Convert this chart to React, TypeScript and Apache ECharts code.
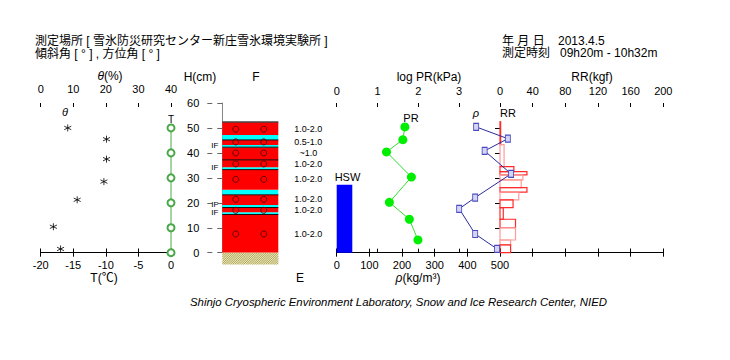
import React, { useEffect, useRef } from 'react';
import * as echarts from 'echarts';

const FONT = '"Liberation Sans", Arial, "Noto Sans CJK JP", sans-serif';

// header / footer texts
const headerPlace = '測定場所 [ 雪氷防災研究センター新庄雪氷環境実験所 ]';
const headerAngle = '傾斜角 [ ° ] , 方位角 [ ° ]';
const headerDateLabel = '年 月 日';
const headerDate = '2013.4.5';
const headerTimeLabel = '測定時刻';
const headerTime = '09h20m - 10h32m';
const footerText = 'Shinjo Cryospheric Environment Laboratory, Snow and Ice Research Center, NIED';

// water content theta (%)
const thetaHeights = [50, 45.5, 37.5, 28.5, 21.2, 10.4, 1.5];
const thetaValues = [8.3, 20.2, 20.2, 19.4, 11.2, 3.9, 6.1];

// snow temperature (°C)
const tempHeights = [50, 40, 30, 20, 10, 0];
const tempValues = [0, 0, 0, 0, 0, 0];

// layers: bottom, top, kind (0 = red, 1 = cyan, 2 = IF cyan)
const layerBottoms = [0, 15.3, 16.2, 18.1, 19.1, 23.2, 25.2, 33.3, 34.2, 42.3, 43.2, 45.2, 47.2];
const layerTops = [15.3, 16.2, 18.1, 19.1, 23.2, 25.2, 33.3, 34.2, 42.3, 43.2, 45.2, 47.2, 52.4];
const layerKinds = [0, 2, 0, 2, 0, 1, 0, 2, 0, 2, 0, 1, 0];
const boundaryHeights = [15.3, 18.1, 23.2, 33.3, 37.2, 42.3, 45.2, 52.4];
const groundDepth = 4.7;
const ifLabelHeights = [43, 34.1, 19.4, 16.1];

// grain shape rows and hardness
const grainHeights = [49.5, 44.4, 40, 35.6, 29.4, 21.4, 17, 7.5];
const hardnessLabels = ['1.0-2.0', '0.5-1.0', '~1.0', '1.0-2.0', '1.0-2.0', '1.0-2.0', '1.0-2.0', '1.0-2.0'];

// push resistance log PR (kPa)
const prHeights = [50.4, 45.3, 40.4, 30.3, 20.2, 13.4, 5.1];
const prValues = [1.67, 1.62, 1.22, 1.83, 1.29, 1.78, 1.99];

// density (kg/m3)
const rhoHeights = [50.4, 45.7, 40.8, 31.6, 22.1, 17.6, 7.5, 1.5];
const rhoValues = [427, 524, 453, 534, 424, 375, 424, 491];

// HSW
const hswValue = 27.2;

// ram resistance RR (kgf)
const rrBottoms = [43.3, 34.5, 32.5, 31.2, 29.2, 26.1, 24.3, 21.2, 18.1, 13.4, 10, 5.1, 3.1, 0];
const rrTops = [52.5, 43.3, 34.5, 32.5, 31.2, 29.2, 26.1, 24.3, 21.2, 18.1, 13.4, 10, 5.1, 3.1];
const rrValues = [0.8, 5, 17, 33, 28, 26, 33, 23, 16, 4, 19, 19, 13, 13];
const rrShades = [0, 1, 0, 0, 1, 1, 0, 1, 0, 0, 0, 1, 1, 0];
const rrTickHeights = [0, 10, 20, 30, 40, 50];

const TOP = 103;
const HGT = 149.7;

const axisBase = (o: any) => ({
  type: 'value',
  axisLine: { show: true, lineStyle: { color: '#000', width: 1 } },
  axisTick: { show: true, length: 4, lineStyle: { color: '#000' } },
  axisLabel: { color: '#000', fontSize: 11, fontFamily: FONT, margin: 7 },
  splitLine: { show: false },
  ...o,
});
const twin = (o: any) => ({
  ...axisBase(o),
  axisLine: { show: false },
  axisLabel: { show: false },
  axisTick: { show: true, inside: true, length: 4, lineStyle: { color: '#000' } },
});
const hiddenY = (gridIndex: number) => ({ type: 'value', gridIndex, min: 0, max: 60, show: false });

const txt = (text: string, x: number, y: number, o: any = {}) => ({
  type: 'text',
  x,
  y,
  z: 100,
  style: {
    text,
    fill: '#000',
    font: `12px ${FONT}`,
    lineHeight: 12,
    align: 'left',
    verticalAlign: 'middle',
    ...o,
  },
});

function buildOption(): any {
  return {
    animation: false,
    backgroundColor: '#fff',
    grid: [
      { left: 40.7, top: TOP, width: 130.3, height: HGT },
      { left: 222.3, top: TOP, width: 56, height: HGT },
      { left: 336.7, top: TOP, width: 163.3, height: HGT },
      { left: 500, top: TOP, width: 163.3, height: HGT },
      { left: 336.7, top: TOP, width: 326.6, height: HGT },
    ],
    xAxis: [
      axisBase({ gridIndex: 0, position: 'top', min: 0, max: 40, interval: 10, axisLabel: { color: '#000', fontSize: 11, fontFamily: FONT, margin: 9 } }),
      twin({ gridIndex: 0, position: 'top', min: 0, max: 40, interval: 10 }),
      axisBase({ gridIndex: 0, position: 'bottom', min: -20, max: 0, interval: 5 }),
      twin({ gridIndex: 0, position: 'bottom', min: -20, max: 0, interval: 5 }),
      { type: 'value', gridIndex: 1, min: 0, max: 1, show: false },
      axisBase({
        gridIndex: 2, position: 'top', min: 0, max: 4, interval: 1,
        axisLabel: { color: '#000', fontSize: 11, fontFamily: FONT, margin: 7, formatter: (v: number) => (v < 4 ? String(v) : '') },
      }),
      twin({ gridIndex: 2, position: 'top', min: 0, max: 4, interval: 1 }),
      axisBase({ gridIndex: 3, position: 'top', min: 0, max: 200, interval: 40 }),
      twin({ gridIndex: 3, position: 'top', min: 0, max: 200, interval: 40 }),
      axisBase({
        gridIndex: 4, position: 'bottom', min: 0, max: 1000, interval: 100,
        axisLabel: { color: '#000', fontSize: 11, fontFamily: FONT, margin: 7, formatter: (v: number) => (v <= 500 ? String(v) : '') },
      }),
      twin({ gridIndex: 4, position: 'bottom', min: 0, max: 1000, interval: 100 }),
    ],
    yAxis: [
      hiddenY(0),
      {
        type: 'value', gridIndex: 1, min: 0, max: 60, interval: 10, position: 'left', offset: 15,
        axisLine: { show: true, lineStyle: { color: '#888', width: 1 } },
        axisTick: { show: true, length: 5, lineStyle: { color: '#666' } },
        axisLabel: { color: '#000', fontSize: 11, fontFamily: FONT, margin: 8 },
        splitLine: { show: false },
      },
      {
        type: 'value', gridIndex: 1, min: 0, max: 60, interval: 10, position: 'left', offset: 15,
        axisLine: { show: false }, axisLabel: { show: false }, splitLine: { show: false },
        axisTick: { show: true, inside: true, length: 5, lineStyle: { color: '#666' } },
      },
      hiddenY(2),
      {
        type: 'value', gridIndex: 3, min: 0, max: 60, interval: 10, position: 'left',
        axisLine: { show: false }, axisLabel: { show: false }, splitLine: { show: false },
        axisTick: { show: true, length: 5, customValues: rrTickHeights, lineStyle: { color: '#000' } },
      },
      hiddenY(4),
    ],
    series: [
      // theta
      {
        type: 'scatter', xAxisIndex: 0, yAxisIndex: 0, z: 5,
        data: thetaValues.map((v, i) => [v, thetaHeights[i]]),
        symbol: 'path://M5,0L5,10M0.67,2.5L9.33,7.5M0.67,7.5L9.33,2.5',
        symbolSize: 7,
        itemStyle: { color: 'none', borderColor: '#000', borderWidth: 1 },
      },
      // temperature
      {
        type: 'line', xAxisIndex: 2, yAxisIndex: 0, clip: false, z: 5,
        data: tempValues.map((v, i) => [v, tempHeights[i]]),
        symbol: 'emptyCircle', symbolSize: 7,
        itemStyle: { color: '#4aa84a', borderWidth: 1 },
        lineStyle: { color: '#4aa84a', width: 1 },
      },
      // layers
      {
        type: 'custom', xAxisIndex: 4, yAxisIndex: 1, z: 2,
        data: layerBottoms.map((b, i) => [b, layerTops[i], layerKinds[i]]),
        renderItem: (params: any, api: any) => {
          const tl = api.coord([0, api.value(1)]);
          const br = api.coord([1, api.value(0)]);
          return {
            type: 'rect',
            shape: { x: tl[0], y: tl[1], width: br[0] - tl[0], height: br[1] - tl[1] },
            style: { fill: api.value(2) === 0 ? '#ff0000' : '#00ffff' },
          };
        },
      },
      // ground hatch
      {
        type: 'custom', xAxisIndex: 4, yAxisIndex: 1, z: 2,
        data: [[0, groundDepth]],
        renderItem: (params: any, api: any) => {
          const tl = api.coord([0, 0]);
          const br = api.coord([1, -api.value(1)]);
          const x0 = tl[0], y0 = tl[1], w = br[0] - x0, h = br[1] - y0;
          const children: any[] = [{ type: 'rect', shape: { x: x0, y: y0, width: w, height: h }, style: { fill: '#ebe5b8' } }];
          const s = 2.2;
          for (let k = -h; k < w; k += s) {
            const tmin = Math.max(0, -k), tmax = Math.min(h, w - k);
            if (tmin < tmax) {
              children.push({
                type: 'line',
                shape: { x1: x0 + k + tmin, y1: y0 + h - tmin, x2: x0 + k + tmax, y2: y0 + h - tmax },
                style: { stroke: '#9c9648', lineWidth: 0.8 },
              });
            }
          }
          return { type: 'group', children };
        },
      },
      // boundaries
      {
        type: 'custom', xAxisIndex: 4, yAxisIndex: 1, z: 3,
        data: boundaryHeights.map((h) => [0, h]),
        renderItem: (params: any, api: any) => {
          const a = api.coord([0, api.value(1)]);
          const b = api.coord([1, api.value(1)]);
          const isTop = params.dataIndex === boundaryHeights.length - 1;
          return {
            type: 'line',
            shape: { x1: a[0], y1: a[1], x2: b[0], y2: b[1] },
            style: { stroke: isTop ? '#444' : '#111', lineWidth: isTop ? 1.5 : 1 },
          };
        },
      },
      // grain shapes
      {
        type: 'custom', xAxisIndex: 4, yAxisIndex: 1, z: 4,
        data: grainHeights.map((h) => [0, h]),
        renderItem: (params: any, api: any) => {
          const a = api.coord([0.24, api.value(1)]);
          const b = api.coord([0.74, api.value(1)]);
          const st = { fill: 'none', stroke: '#600000', lineWidth: 1 };
          return {
            type: 'group',
            children: [
              { type: 'circle', shape: { cx: a[0], cy: a[1], r: 3 }, style: st },
              { type: 'circle', shape: { cx: b[0], cy: b[1], r: 3 }, style: st },
            ],
          };
        },
      },
      // hardness labels
      {
        type: 'custom', xAxisIndex: 4, yAxisIndex: 1, z: 4,
        data: grainHeights.map((h) => [1, h]),
        renderItem: (params: any, api: any) => {
          const p = api.coord([1, api.value(1)]);
          return {
            type: 'text',
            style: {
              text: hardnessLabels[params.dataIndex], x: p[0] + 30, y: p[1],
              fill: '#000', fontSize: 9, lineHeight: 9, fontFamily: FONT, align: 'center', verticalAlign: 'middle',
            },
          };
        },
      },
      // IF labels
      {
        type: 'custom', xAxisIndex: 4, yAxisIndex: 1, z: 4,
        data: ifLabelHeights.map((h) => [0, h]),
        renderItem: (params: any, api: any) => {
          const p = api.coord([0, api.value(1)]);
          return {
            type: 'text',
            style: {
              text: 'IF', x: p[0] - 4, y: p[1],
              fill: '#000', fontSize: 8, lineHeight: 7, fontFamily: FONT, align: 'right', verticalAlign: 'middle',
            },
          };
        },
      },
      // PR
      {
        type: 'line', xAxisIndex: 5, yAxisIndex: 3, z: 5, clip: false,
        data: prValues.map((v, i) => [v, prHeights[i]]),
        symbol: 'circle', symbolSize: 9,
        itemStyle: { color: '#00ee00' },
        lineStyle: { color: '#33dd33', width: 1 },
      },
      // RR
      {
        type: 'custom', xAxisIndex: 7, yAxisIndex: 4, z: 4,
        data: rrBottoms.map((b, i) => [b, rrTops[i], rrValues[i], rrShades[i]]),
        renderItem: (params: any, api: any) => {
          const o = api.coord([0, api.value(1)]);
          const e = api.coord([api.value(2), api.value(0)]);
          return {
            type: 'rect',
            shape: { x: o[0], y: o[1], width: e[0] - o[0], height: e[1] - o[1] },
            style: { fill: 'none', stroke: api.value(3) ? '#ff9a9a' : '#ff2a2a', lineWidth: 1.2 },
          };
        },
      },
      // HSW
      {
        type: 'custom', xAxisIndex: 9, yAxisIndex: 5, z: 4,
        data: [[0, hswValue]],
        renderItem: (params: any, api: any) => {
          const t = api.coord([0, api.value(1)]);
          const b = api.coord([0, 0]);
          return {
            type: 'rect',
            shape: { x: t[0], y: t[1], width: 15.6, height: b[1] - t[1] },
            style: { fill: '#0000ff' },
          };
        },
      },
      // density
      {
        type: 'line', xAxisIndex: 9, yAxisIndex: 5, z: 10, clip: false,
        data: rhoValues.map((v, i) => [v, rhoHeights[i]]),
        symbol: 'rect', symbolSize: [5, 7],
        itemStyle: { color: '#d4d4f6', borderColor: '#4a4ac0', borderWidth: 1 },
        lineStyle: { color: '#2b2b9b', width: 1 },
      },
    ],
    graphic: [
      txt(headerPlace, 35, 41),
      txt(headerAngle, 35, 54),
      txt(headerDateLabel, 502, 40.5),
      txt(headerDate, 558, 40.5),
      txt(headerTimeLabel, 502, 53),
      txt(headerTime, 560, 53),
      txt('{i|θ}(%)', 110, 76, { align: 'center', lineHeight: 10, rich: { i: { fontStyle: 'italic', fontSize: 12, fontFamily: FONT, lineHeight: 10 } } }),
      txt('T(℃)', 104, 278, { align: 'center' }),
      txt('H(cm)', 200, 77, { align: 'center' }),
      txt('F', 256, 77, { align: 'center' }),
      txt('E', 300, 278, { align: 'center' }),
      txt('log PR(kPa)', 429, 77, { align: 'center' }),
      txt('RR(kgf)', 592, 77, { align: 'center' }),
      txt('{i|ρ}(kg/m³)', 418, 278, { align: 'center', rich: { i: { fontStyle: 'italic', fontSize: 12, fontFamily: FONT } } }),
      txt('θ', 65, 112, { align: 'center', font: `italic 11px ${FONT}`, lineHeight: 11 }),
      txt('T', 171, 119, { align: 'center', font: `10px ${FONT}`, lineHeight: 10 }),
      txt('PR', 411, 118, { align: 'center', font: `11px ${FONT}`, lineHeight: 11 }),
      txt('ρ', 476, 113, { align: 'center', font: `italic 11px ${FONT}`, lineHeight: 11 }),
      txt('RR', 508, 113, { align: 'center', font: `11px ${FONT}`, lineHeight: 11 }),
      txt('HSW', 347.5, 177, { align: 'center', font: `11px ${FONT}`, lineHeight: 11 }),
      txt(footerText, 398.5, 302, { align: 'center', font: `italic 11.4px ${FONT}` }),
    ],
  };
}

export default function App() {
  const ref = useRef<HTMLDivElement>(null);
  useEffect(() => {
    document.body.style.margin = '0';
    const chart = echarts.init(ref.current as HTMLDivElement, null, { renderer: 'svg' });
    chart.setOption(buildOption());
    return () => chart.dispose();
  }, []);
  return <div ref={ref} style={{ width: 730, height: 360, background: '#fff' }} />;
}
